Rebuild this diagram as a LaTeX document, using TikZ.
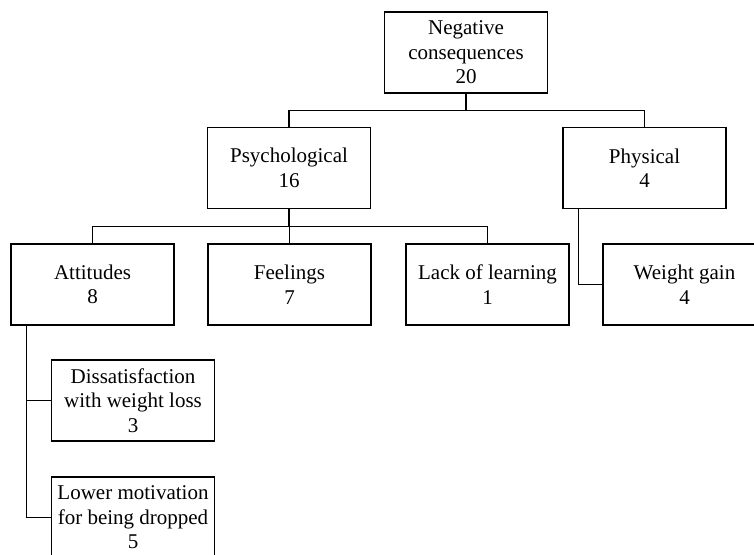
\documentclass[tikz,border=0pt]{standalone}
\usepackage{fontspec}
\setmainfont{Liberation Serif}
\usetikzlibrary{calc}

\begin{document}
\begin{tikzpicture}[x=1pt,y=-1pt,line width=1.1pt,
  bus/.style={to path={|- ($(\tikztostart)!.5!(\tikztotarget)$) -| (\tikztotarget)}},
  side/.style={to path={|- (\tikztotarget)}}]

        \clip (0,0) rectangle (754,554);

        \begin{scope}[every node/.style={draw, align=center, inner sep=0pt,
            minimum width=163pt, minimum height=81pt,
            font=\fontsize{21}{24.5}\selectfont}]
          \node (1) at (466,52.5)  {Negative\\consequences\\20};
          \node (2) at (289,168)   {Psychological\\16};
          \node (3) at (644.5,168) {Physical\\4};
          \node (4) at (92.5,284.5)  {Attitudes\\8};
          \node (5) at (289.5,284.5) {Feelings\\7};
          \node (6) at (487.5,284.5) {Lack of learning\\1};
          \node (7) at (684.5,284.5) {Weight gain\\4};
          \node (8) at (133,400.5) {Dissatisfaction\\with weight loss\\3};
          \node (9) at (133,517.5) {Lower motivation\\for being dropped\\5};
        \end{scope}

        \begin{scope}[every edge/.style={draw}]
          \path (1.south) edge[bus] (2.north);
          \path (1.south) edge[bus] (3.north);
          \path (2.south) edge[bus] (4.north);
          \path (2.south) edge[bus] (5.north);
          \path (2.south) edge[bus] (6.north);
          \path ([xshift=16pt]3.south west) edge[side] (7.west);
          \path ([xshift=16pt]4.south west) edge[side] (8.west);
          \path ([xshift=16pt]4.south west) edge[side] (9.west);
        \end{scope}
      \end{tikzpicture}
\end{document}
